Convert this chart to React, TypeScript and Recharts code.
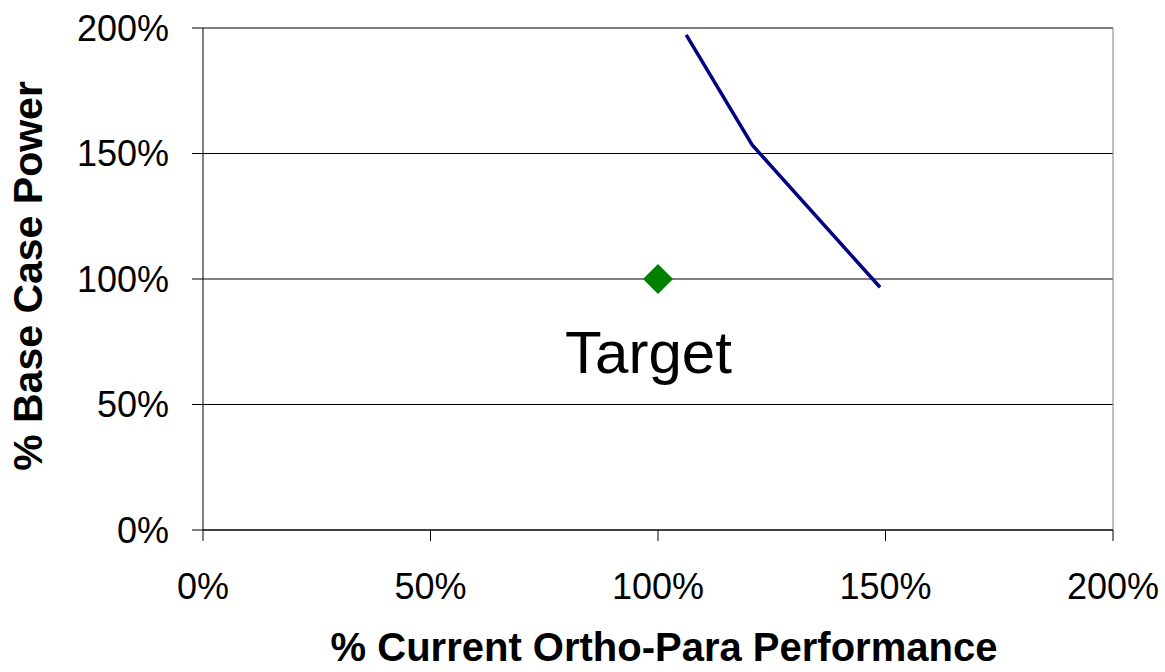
import {
  CartesianGrid,
  ComposedChart,
  Label,
  Line,
  ReferenceDot,
  ReferenceLine,
  Scatter,
  XAxis,
  YAxis,
} from 'recharts'

// ortho-para performance vs base case power (fractions, 1 = 100%)
const curveX = [1.062, 1.207, 1.488]
const curveY = [1.973, 1.534, 0.967]
const targetX = [1.0]
const targetY = [1.0]
const xTicks = [0, 0.5, 1, 1.5, 2]
const yTicks = [0, 0.5, 1, 1.5, 2]

const curve = curveX.map((x, i) => ({ x, y: curveY[i] }))
const target = targetX.map((x, i) => ({ x, y: targetY[i] }))

const FONT = '"Liberation Sans", Arial, sans-serif'
const pct = (v: number) => `${Math.round(v * 100)}%`

function Diamond(props: any) {
  const { cx, cy } = props
  const r = 15
  return (
    <polygon
      points={`${cx},${cy - r} ${cx + r},${cy} ${cx},${cy + r} ${cx - r},${cy}`}
      fill="#008000"
    />
  )
}

export default function App() {
  return (
    <div style={{ position: 'absolute', left: 0, top: 0, background: '#fff' }}>
      <ComposedChart
        width={1165}
        height={672}
        margin={{ top: 28, right: 52, bottom: 0, left: 0 }}
        style={{ fontFamily: FONT }}
      >
        <CartesianGrid vertical={false} stroke="#000" />
        <XAxis
          dataKey="x"
          type="number"
          domain={[0, 2]}
          ticks={xTicks}
          tickFormatter={pct}
          height={142}
          tickSize={11}
          tickMargin={32}
          stroke="#000"
          tick={{ fill: '#000', fontSize: 36 }}
          allowDuplicatedCategory={false}
        >
          <Label
            content={() => (
              <text
                x={664}
                y={661}
                textAnchor="middle"
                fontSize={40}
                fontWeight="bold"
                fill="#000"
                fontFamily={FONT}
              >
                % Current Ortho-Para Performance
              </text>
            )}
          />
        </XAxis>
        <YAxis
          dataKey="y"
          type="number"
          domain={[0, 2]}
          ticks={yTicks}
          tickFormatter={pct}
          width={203}
          tickSize={11}
          tickMargin={23}
          stroke="#000"
          tick={{ fill: '#000', fontSize: 36 }}
        >
          <Label
            content={() => (
              <text
                x={28}
                y={276}
                transform="rotate(-90 28 276)"
                textAnchor="middle"
                dominantBaseline="central"
                fontSize={41}
                fontWeight="bold"
                fill="#000"
                fontFamily={FONT}
              >
                % Base Case Power
              </text>
            )}
          />
        </YAxis>
        <ReferenceLine x={2} stroke="#808080" />
        <Line
          data={curve}
          dataKey="y"
          type="linear"
          stroke="#000080"
          strokeWidth={3.5}
          dot={false}
          activeDot={false}
          isAnimationActive={false}
        />
        <Scatter
          data={target}
          dataKey="y"
          shape={<Diamond />}
          isAnimationActive={false}
        />
        <ReferenceDot
          x={0.979}
          y={0.709}
          r={0}
          stroke="none"
          label={{
            value: 'Target',
            position: 'center',
            fontSize: 60,
            fill: '#000',
            fontFamily: FONT,
          }}
        />
      </ComposedChart>
    </div>
  )
}
